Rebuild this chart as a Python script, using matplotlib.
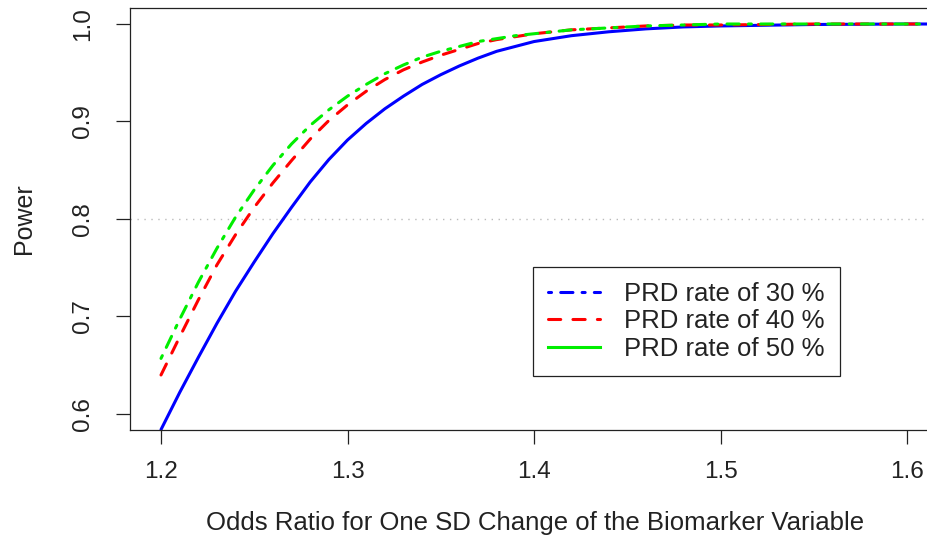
import numpy as np
import matplotlib.pyplot as plt
from matplotlib.lines import Line2D

plt.rcParams['font.family'] = ['Liberation Sans', 'DejaVu Sans']

# odds ratio grid and power
odds = [1.20, 1.21, 1.22, 1.23, 1.24, 1.25, 1.26, 1.27, 1.28, 1.29,
        1.30, 1.31, 1.32, 1.33, 1.34, 1.35, 1.36, 1.37, 1.38, 1.39,
        1.40, 1.42, 1.44, 1.46, 1.48, 1.50, 1.55, 1.60, 1.65]
power_30 = [0.584, 0.622, 0.658, 0.693, 0.726, 0.756, 0.785, 0.812, 0.838, 0.861,
            0.881, 0.898, 0.913, 0.926, 0.938, 0.948, 0.957, 0.965, 0.972, 0.977,
            0.982, 0.988, 0.992, 0.995, 0.997, 0.998, 0.9995, 1.000, 1.000]
power_40 = [0.640, 0.679, 0.717, 0.753, 0.784, 0.812, 0.837, 0.860, 0.882, 0.901,
            0.917, 0.931, 0.943, 0.953, 0.961, 0.968, 0.974, 0.980, 0.984, 0.987,
            0.990, 0.994, 0.996, 0.998, 0.999, 0.999, 1.000, 1.000, 1.000]
power_50 = [0.657, 0.697, 0.735, 0.770, 0.802, 0.830, 0.855, 0.877, 0.896, 0.912,
            0.926, 0.938, 0.949, 0.958, 0.966, 0.972, 0.977, 0.982, 0.985, 0.988,
            0.990, 0.994, 0.996, 0.998, 0.999, 1.000, 1.000, 1.000, 1.000]
labels = ['PRD rate of 30 %', 'PRD rate of 40 %', 'PRD rate of 50 %']
xticks = [1.2, 1.3, 1.4, 1.5, 1.6]
yticks = [0.6, 0.7, 0.8, 0.9, 1.0]

fig = plt.figure(figsize=(9.28, 5.37), dpi=100)
ax = fig.add_axes([0.1401, 0.1993, 0.9009, 0.7858])

lw = 2.2
ax.axhline(0.8, color='#bbbbbb', lw=1, ls=(0, (1, 4)))
ax.plot(odds, power_30, color='#0000ff', lw=lw, solid_capstyle='round')
ax.plot(odds, power_40, color='#ff0000', lw=lw, ls=(0, (4, 4)), dash_capstyle='round')
ax.plot(odds, power_50, color='#00ee00', lw=lw, ls=(0, (1, 3, 4, 3)), dash_capstyle='round')

ax.set_xlim(1.18338, 1.63164)
ax.set_ylim(0.58359, 1.01641)
ax.set_xticks(xticks)
ax.set_yticks(yticks)
ax.set_xticklabels([f'{v:.1f}' for v in xticks])
ax.set_yticklabels([f'{v:.1f}' for v in yticks], rotation=90, va='center')
ax.tick_params(axis='both', length=10, width=0.9, labelsize=17.5, color='#222222',
               labelcolor='#222222')
ax.tick_params(axis='x', pad=12.5)
ax.tick_params(axis='y', pad=16)
for sp in ax.spines.values():
    sp.set_linewidth(0.9)
    sp.set_color('#222222')

ax.set_xlabel('Odds Ratio for One SD Change of the Biomarker Variable',
              fontsize=18.5, color='#222222')
ax.set_ylabel('Power', fontsize=18, color='#222222')
ax.xaxis.set_label_coords(0.4844, -0.193)
ax.yaxis.set_label_coords(-0.113, 0.5)

# legend as drawn in the source (styles do not match the curves)
handles = [Line2D([], [], color='#0000ff', lw=lw, ls=(0, (1, 3, 4, 3)), dash_capstyle='round'),
           Line2D([], [], color='#ff0000', lw=lw, ls=(0, (4, 4)), dash_capstyle='round'),
           Line2D([], [], color='#00ee00', lw=lw)]
leg = ax.legend(handles, labels, loc='lower left', bbox_to_anchor=(0.482, 0.128),
                borderaxespad=0, fontsize=18.5, handlelength=2.0, handletextpad=0.93,
                labelspacing=0.12, borderpad=0.6, fancybox=False, framealpha=1)
leg.get_frame().set_edgecolor('#222222')
leg.get_frame().set_linewidth(0.9)
for t in leg.get_texts():
    t.set_color('#222222')

fig.savefig('out.png', dpi=100)
